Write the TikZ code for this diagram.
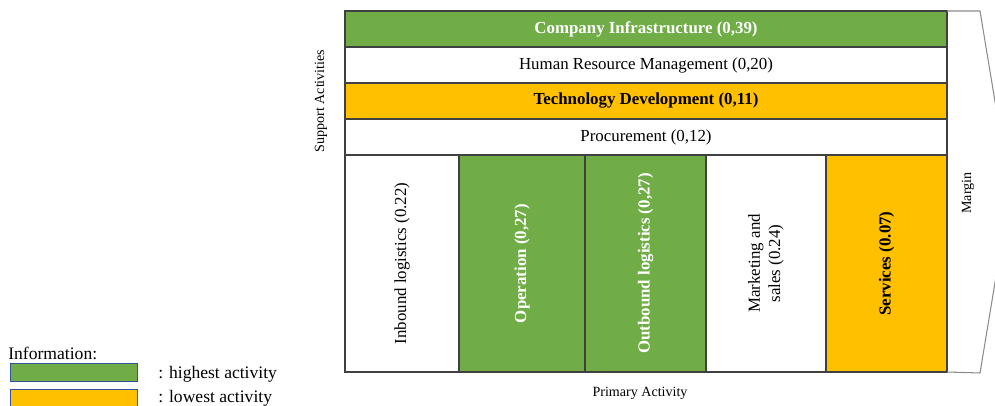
\documentclass[tikz,border=0pt]{standalone}
\usepackage{fontspec}
\setmainfont{Liberation Serif}
\usetikzlibrary{positioning}
\definecolor{actgreen}{HTML}{70AD47}
\definecolor{actorange}{HTML}{FFC000}
\definecolor{legendblue}{HTML}{2F5597}

\begin{document}
\begin{tikzpicture}[node distance=0cm,
    rowbox/.style={draw=black!75, line width=0.7pt, outer sep=0pt, minimum width=12.04cm, minimum height=0.72cm, font=\fontsize{9.6}{11.5}\selectfont},
    colbox/.style={draw=black!75, line width=0.7pt, outer sep=0pt, minimum height=4.34cm, anchor=north west},
    coltext/.style={rotate=90, align=center, font=\fontsize{9.6}{11.5}\selectfont},
    sidetext/.style={font=\fontsize{8}{10}\selectfont},
    legendbox/.style={draw=legendblue, line width=0.8pt, minimum width=2.54cm, minimum height=0.36cm, anchor=north west}]
    \useasboundingbox (0,0) rectangle (19.9,8.12);

    % Support activities
    \node (infra) [rowbox, fill=actgreen, text=white, font=\fontsize{9.6}{11.5}\selectfont\bfseries] at (12.92,7.54) {Company Infrastructure (0,39)};
    \node (hrm) [rowbox, below=of infra] {Human Resource Management (0,20)};
    \node (tech) [rowbox, fill=actorange, font=\fontsize{9.6}{11.5}\selectfont\bfseries, below=of hrm] {Technology Development (0,11)};
    \node (proc) [rowbox, below=of tech] {Procurement (0,12)};

    % Primary activities
    \node (inb) [colbox, minimum width=2.28cm] at (proc.south west) {};
    \node (oper) [colbox, fill=actgreen, minimum width=2.52cm] at (inb.north east) {};
    \node (outb) [colbox, fill=actgreen, minimum width=2.42cm] at (oper.north east) {};
    \node (mark) [colbox, minimum width=2.40cm] at (outb.north east) {};
    \node (serv) [colbox, fill=actorange, minimum width=2.42cm] at (mark.north east) {};

    \node (inbtext) [coltext] at (inb) {Inbound logistics (0.22)};
    \node (opertext) [coltext, text=white, font=\fontsize{9.6}{11.5}\selectfont\bfseries] at (oper) {Operation (0,27)};
    \node (outbtext) [coltext, text=white, font=\fontsize{9.6}{11.5}\selectfont\bfseries] at (outb) {Outbound logistics (0,27)};
    \node (marktext) [coltext] at (mark) {Marketing and\\sales (0.24)};
    \node (servtext) [coltext, font=\fontsize{9.6}{11.5}\selectfont\bfseries] at (serv) {Services (0.07)};

    % Margin arrow, its tip runs off the page
    \coordinate (mtop) at (19.6,7.9);
    \coordinate (mtip) at (20.2,4.28);
    \coordinate (mbot) at (19.6,0.66);
    \draw[black!45, line width=0.6pt] (infra.north east) -- (mtop) -- (mtip) -- (mbot) -- (serv.south east);

    % Side labels
    \node (support) [sidetext, rotate=90] at (6.42,6.1) {Support Activities};
    \node (margin) [sidetext, rotate=90] at (19.36,4.26) {Margin};
    \node (primary) [sidetext] at (12.8,0.26) {Primary Activity};

    % Legend
    \node (info) [anchor=west, inner sep=0pt, font=\fontsize{10}{12}\selectfont] at (0.16,1.06) {Information:};
    \node (legreen) [legendbox, fill=actgreen] at (0.2,0.86) {};
    \node (leorange) [legendbox, fill=actorange] at (0.2,0.34) {};
    \node (hightext) [anchor=west, inner sep=0pt, font=\fontsize{10}{12}\selectfont] at (3.16,0.64) {: highest activity};
    \node (lowtext) [anchor=west, inner sep=0pt, font=\fontsize{10}{12}\selectfont] at (3.16,0.16) {: lowest activity};
\end{tikzpicture}
\end{document}
